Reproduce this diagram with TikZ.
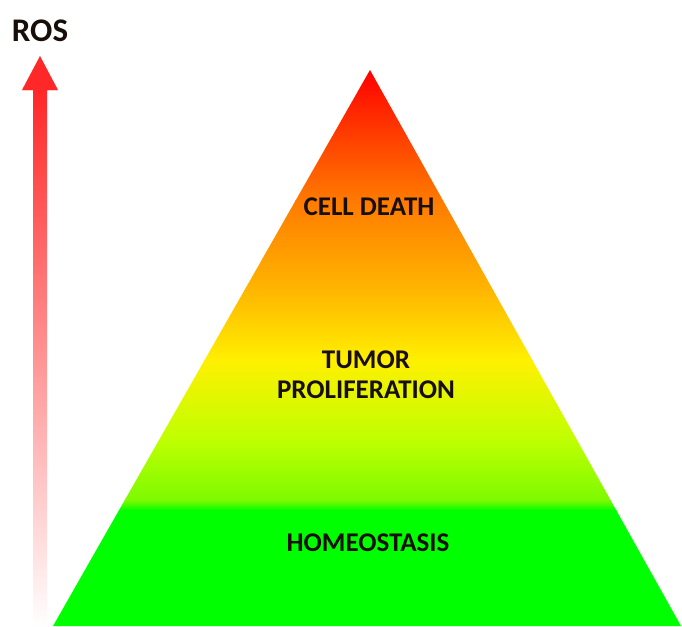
\documentclass[tikz,border=0pt]{standalone}
\usepackage{fontspec}
\setmainfont{Carlito}
\definecolor{c0}{RGB}{255,0,0}
\definecolor{c1}{RGB}{255,122,0}
\definecolor{c2}{RGB}{255,182,0}
\definecolor{c3}{RGB}{255,240,0}
\definecolor{c4}{RGB}{190,255,0}
\definecolor{c5}{RGB}{125,250,0}
\definecolor{c6}{RGB}{0,255,0}
\definecolor{ar0}{RGB}{255,40,40}
\definecolor{ar1}{RGB}{255,125,125}
\definecolor{ar2}{RGB}{255,255,255}
\definecolor{txt}{RGB}{25,15,10}
\tikzset{
  lbl/.style={font=\fontsize{27}{30}\selectfont\bfseries, text=txt, align=center, inner sep=0pt},
  roslbl/.style={font=\fontsize{33}{36}\selectfont\bfseries, text=txt, inner sep=0pt}
}
\begin{document}
\begin{tikzpicture}[x=1pt,y=-1pt]
\useasboundingbox (0,0) rectangle (682,626);
% pyramid
\begin{scope}
\clip (370,70) -- (681,626) -- (53,626) -- cycle;
\shade[top color=c0, bottom color=c1] (40,69) rectangle (682,200.5);
\shade[top color=c1, bottom color=c2] (40,200) rectangle (682,290.5);
\shade[top color=c2, bottom color=c3] (40,290) rectangle (682,360.5);
\shade[top color=c3, bottom color=c4] (40,360) rectangle (682,440.5);
\shade[top color=c4, bottom color=c5] (40,440) rectangle (682,500.5);
\shade[top color=c5, bottom color=c6] (40,500) rectangle (682,510.5);
\fill[c6] (40,510) rectangle (682,627);
\end{scope}
% arrow
\begin{scope}
\clip (33,627) -- (33,90) -- (22,90) -- (40,56) -- (58,90) -- (47,90) -- (47,627) -- cycle;
\fill[ar0] (20,55) rectangle (60,90.5);
\shade[top color=ar0, bottom color=ar1] (20,90) rectangle (60,300.5);
\shade[top color=ar1, bottom color=ar2] (20,300) rectangle (60,627);
\end{scope}
\node[roslbl] (ros) at (40,31) {ROS};
\node[lbl] (death) at (369,207) {CELL DEATH};
\node[lbl] (tumor) at (366,375) {TUMOR\\PROLIFERATION};
\node[lbl] (homeo) at (368,543) {HOMEOSTASIS};
\end{tikzpicture}
\end{document}
